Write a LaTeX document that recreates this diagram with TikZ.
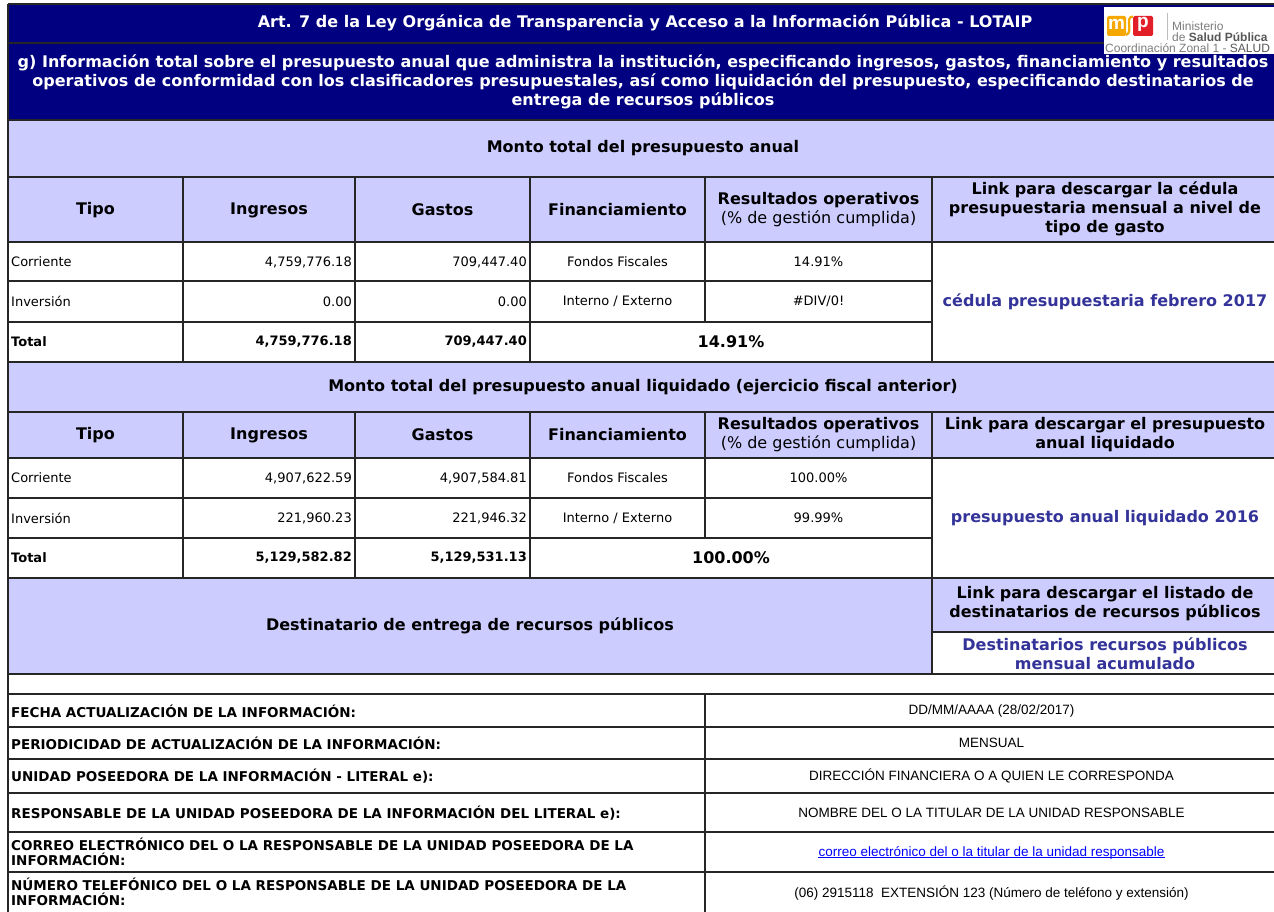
\documentclass[tikz,border=0pt]{standalone}
\usepackage{fontspec}
\setmainfont{DejaVu Sans}
\newfontfamily\arl{Liberation Sans}
\usepackage{tikz}
\usetikzlibrary{positioning}
\definecolor{navy}{RGB}{0,0,128}
\definecolor{lav}{RGB}{204,204,255}
\definecolor{lnk}{RGB}{51,51,153}
\definecolor{mspor}{RGB}{247,168,0}
\definecolor{mspred}{RGB}{226,30,40}
\definecolor{mspgr}{RGB}{125,125,125}
\tikzstyle{hd}  = [font=\fontsize{16}{19}\selectfont\bfseries, align=center]
\tikzstyle{wh}  = [hd, white]
\tikzstyle{lk}  = [hd, lnk]
\tikzstyle{dl}  = [font=\fontsize{13}{15}\selectfont, anchor=west]
\tikzstyle{dr}  = [font=\fontsize{13}{15}\selectfont, anchor=east]
\tikzstyle{dc}  = [font=\fontsize{13}{15}\selectfont]
\tikzstyle{bl}  = [font=\fontsize{13}{15}\selectfont\bfseries, anchor=west]
\tikzstyle{br}  = [font=\fontsize{13}{15}\selectfont\bfseries, anchor=east]
\tikzstyle{lab} = [font=\fontsize{13.5}{15}\selectfont\bfseries, anchor=west, align=left]
\tikzstyle{val} = [font=\arl\fontsize{13.5}{15}\selectfont]
\tikzstyle{ln}  = [line width=1.3pt, black!85]
\tikzstyle{logotxt} = [font=\arl\fontsize{12}{13}\selectfont, mspgr, anchor=west]

\begin{document}
\begin{tikzpicture}
		[
			x=1pt, y=-1pt,
			every node/.style={inner sep=0pt},
		]
		\useasboundingbox (0,0) rectangle (1274,912);
		\fill[white] (0,0) rectangle (1274,912);

		% fondos
		\fill[navy] (8,4) rectangle (1278,120);
		\fill[lav] (8,120) rectangle (1278,242);
		\fill[lav] (8,362) rectangle (1278,458);
		\fill[lav] (8,578) rectangle (1278,674);
		\fill[white] (932,632) rectangle (1278,674);

		% rejilla
		\foreach \y in {4,43,120,177,242,362,412,458,578,674,694,727,759,793,832,872,914}
			\draw[ln] (8,\y) -- (1278,\y);
		\foreach \y in {281,322,498,538}
			\draw[ln] (8,\y) -- (932,\y);
		\draw[ln] (932,632) -- (1278,632);
		\draw[ln] (8,4) -- (8,914);
		\draw[ln] (1278,4) -- (1278,914);
		\foreach \x in {183,355,530,932}
			\draw[ln] (\x,177) -- (\x,362) (\x,412) -- (\x,578);
		\draw[ln] (705,177) -- (705,322) (705,412) -- (705,538) (705,694) -- (705,914);
		\draw[ln] (932,578) -- (932,674);

		% logo
		\fill[white] (1104,7) rectangle (1278,54);
		\fill[mspor, rounded corners=1.5pt] (1107,16) rectangle (1126,36);
		\fill[mspred, rounded corners=1.5pt] (1133,16) rectangle (1153,36);
		\draw[mspor, line width=2.2pt] (1126,35) .. controls (1134,32) and (1124,17) .. (1133,16.5);
		\node[font=\arl\bfseries\fontsize{19}{19}\selectfont, white] (logom) at (1116.5,24.5) {m};
		\node[font=\arl\bfseries\fontsize{19}{19}\selectfont, white] (logop) at (1143,24) {p};
		\draw[mspgr!50, line width=0.6pt] (1167,13) -- (1167,40);
		\node[logotxt] (logomin) at (1172,26) {Ministerio};
		\node[logotxt] (logosal) at (1172,37) {de {\bfseries\color{mspgr!70!black}Salud Pública}};
		\node[logotxt] (logocz) at (1105,48.5) {Coordinación Zonal 1 - {\color{mspgr!70!black}SALUD}};

		% encabezado
		\node[wh] (titulo) at (645,22.5) {Art. 7 de la Ley Orgánica de Transparencia y Acceso a la Información Pública - LOTAIP};
		\node[wh] (literal) at (643,82) {g) Información total sobre el presupuesto anual que administra la institución, especificando ingresos, gastos, financiamiento y resultados\\operativos de conformidad con los clasificadores presupuestales, así como liquidación del presupuesto, especificando destinatarios de\\entrega de recursos públicos};

		% presupuesto anual
		\node[hd] (monto) at (643,148) {Monto total del presupuesto anual};
		\node[hd] (tipo) at (95.5,210) {Tipo};
		\node[hd] (ingresos) at (269,210) {Ingresos};
		\node[hd] (gastos) at (442.5,210) {Gastos};
		\node[hd] (financ) at (617.5,210) {Financiamiento};
		\node[hd] (result) at (818.5,210) {Resultados operativos\\{\mdseries (\% de gestión cumplida)}};
		\node[hd] (link) at (1105,209) {Link para descargar la cédula\\presupuestaria mensual a nivel de\\tipo de gasto};
		\node[dl] (corr) at (11,262) {Corriente};
		\node[dr] (corring) at (352,262) {4,759,776.18};
		\node[dr] (corrgas) at (527,262) {709,447.40};
		\node[dc] (corrfin) at (617.5,262) {Fondos Fiscales};
		\node[dc] (corrres) at (818.5,262) {14.91\%};
		\node[dl] (inv) at (11,301.5) {Inversión};
		\node[dr] (inving) at (352,301.5) {0.00};
		\node[dr] (invgas) at (527,301.5) {0.00};
		\node[dc] (invfin) at (617.5,301.5) {Interno / Externo};
		\node[dc] (invres) at (818.5,301.5) {\#DIV/0!};
		\node[bl] (tot) at (11,342) {Total};
		\node[br] (toting) at (352,342) {4,759,776.18};
		\node[br] (totgas) at (527,342) {709,447.40};
		\node[hd] (totres) at (731,342) {14.91\%};
		\node[lk] (cedula) at (1105,301.5) {cédula presupuestaria febrero 2017};

		% presupuesto liquidado
		\node[hd] (montoliq) at (643,387) {Monto total del presupuesto anual liquidado (ejercicio fiscal anterior)};
		\node[hd] (tipoliq) at (95.5,435) {Tipo};
		\node[hd] (ingresosliq) at (269,435) {Ingresos};
		\node[hd] (gastosliq) at (442.5,435) {Gastos};
		\node[hd] (financliq) at (617.5,435) {Financiamiento};
		\node[hd] (resultliq) at (818.5,435) {Resultados operativos\\{\mdseries (\% de gestión cumplida)}};
		\node[hd] (linkliq) at (1105,435) {Link para descargar el presupuesto\\anual liquidado};
		\node[dl] (corrliq) at (11,478) {Corriente};
		\node[dr] (corringliq) at (352,478) {4,907,622.59};
		\node[dr] (corrgasliq) at (527,478) {4,907,584.81};
		\node[dc] (corrfinliq) at (617.5,478) {Fondos Fiscales};
		\node[dc] (corrresliq) at (818.5,478) {100.00\%};
		\node[dl] (invliq) at (11,518) {Inversión};
		\node[dr] (invingliq) at (352,518) {221,960.23};
		\node[dr] (invgasliq) at (527,518) {221,946.32};
		\node[dc] (invfinliq) at (617.5,518) {Interno / Externo};
		\node[dc] (invresliq) at (818.5,518) {99.99\%};
		\node[bl] (totliq) at (11,558) {Total};
		\node[br] (totingliq) at (352,558) {5,129,582.82};
		\node[br] (totgasliq) at (527,558) {5,129,531.13};
		\node[hd] (totresliq) at (731,558) {100.00\%};
		\node[lk] (liquidado) at (1105,518) {presupuesto anual liquidado 2016};

		% destinatarios
		\node[hd] (destin) at (470,626) {Destinatario de entrega de recursos públicos};
		\node[hd] (linkdest) at (1105,604) {Link para descargar el listado de\\destinatarios de recursos públicos};
		\node[lk] (destacum) at (1105,653.5) {Destinatarios recursos públicos\\mensual acumulado};

		% datos de la informacion
		\node[lab] (fecha) at (11,711) {FECHA ACTUALIZACIÓN DE LA INFORMACIÓN:};
		\node[lab] (period) at (11,743) {PERIODICIDAD DE ACTUALIZACIÓN DE LA INFORMACIÓN:};
		\node[lab] (unidad) at (11,776) {UNIDAD POSEEDORA DE LA INFORMACIÓN - LITERAL e):};
		\node[lab] (respons) at (11,813) {RESPONSABLE DE LA UNIDAD POSEEDORA DE LA INFORMACIÓN DEL LITERAL e):};
		\node[lab] (correo) at (11,852) {CORREO ELECTRÓNICO DEL O LA RESPONSABLE DE LA UNIDAD POSEEDORA DE LA\\INFORMACIÓN:};
		\node[lab] (telef) at (11,892) {NÚMERO TELEFÓNICO DEL O LA RESPONSABLE DE LA UNIDAD POSEEDORA DE LA\\INFORMACIÓN:};
		\node[val] (fechaval) at (991.5,711) {DD/MM/AAAA (28/02/2017)};
		\node[val] (periodval) at (991.5,743) {MENSUAL};
		\node[val] (unidadval) at (991.5,776) {DIRECCIÓN FINANCIERA O A QUIEN LE CORRESPONDA};
		\node[val] (responsval) at (991.5,813) {NOMBRE DEL O LA TITULAR DE LA UNIDAD RESPONSABLE};
		\node[val, blue, anchor=base] (correoval) at (991.5,856) {correo electrónico del o la titular de la unidad responsable};
		\draw[blue, line width=0.8pt] ([yshift=-1.6pt]correoval.base west) -- ([yshift=-1.6pt]correoval.base east);
		\node[val] (telefval) at (991.5,893) {(06) 2915118\ \ EXTENSIÓN 123 (Número de teléfono y extensión)};
	\end{tikzpicture}
\end{document}
